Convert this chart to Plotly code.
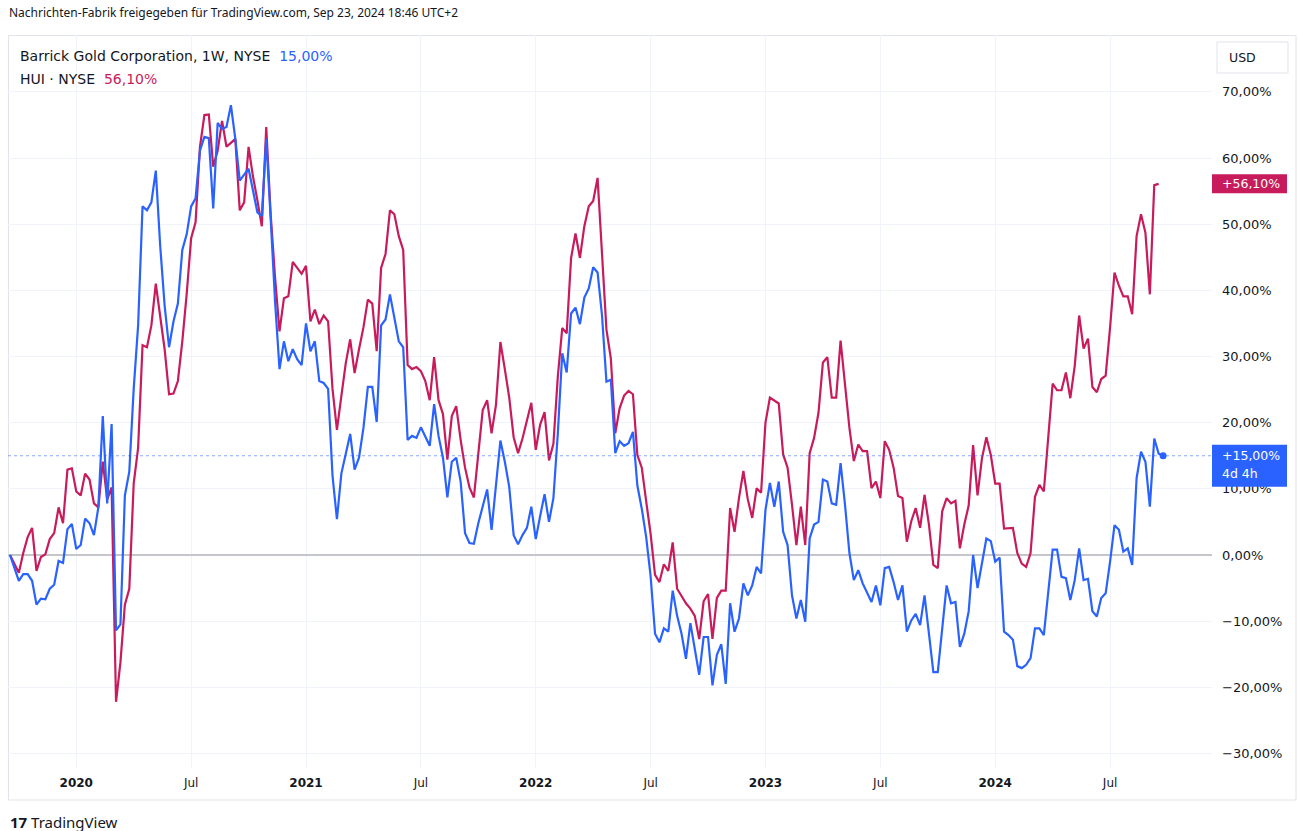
import pandas as pd
import plotly.graph_objects as go

# ---------------- data (weekly bars, % change since first bar) ----------------
START = pd.Timestamp("2019-09-23")   # first weekly bar

# bar indices (weeks since START) and values
barrick_weeks_a = [0] + list(range(2, 55))
barrick_pct_a = [0.0, -3.9, -2.9, -2.9, -3.9, -7.5, -6.6, -6.7, -5.1, -4.5,
                 -0.9, -1.2, 3.9, 4.7, 0.9, 1.5, 5.5, 4.8, 3.0, 7.2,
                 21.0, 7.8, 19.8, -11.4, -10.5, 9.0, 12.6, 25.1, 34.7, 52.7,
                 52.1, 53.3, 58.1, 46.7, 37.7, 31.4, 35.3, 38.0, 46.1, 48.5,
                 52.7, 53.9, 61.1, 63.2, 63.0, 52.4, 65.3, 64.4, 64.7, 68.0,
                 62.9, 56.6, 57.5, 58.4]
barrick_weeks_b = list(range(55, 109))
barrick_pct_b = [55.1, 51.8, 51.2, 62.9, 50.9, 38.3, 28.1, 32.3, 29.3, 31.1,
                 29.6, 28.7, 35.0, 30.8, 32.3, 26.3, 26.0, 25.1, 12.0, 5.4,
                 12.3, 15.3, 18.3, 12.9, 14.7, 19.2, 25.4, 25.4, 20.1, 34.7,
                 35.6, 39.4, 35.9, 32.3, 31.4, 17.4, 18.0, 17.7, 19.3, 18.0,
                 16.5, 22.8, 18.0, 14.7, 8.7, 14.1, 14.7, 11.1, 3.3, 1.8,
                 1.7, 4.8, 7.2, 9.9]
barrick_weeks_c = [109] + list(range(111, 163))
barrick_pct_c = [3.8,
                 17.3, 14.1, 10.3, 3.0, 1.6, 3.0, 4.1, 7.3, 2.4, 5.9,
                 9.2, 5.0, 8.6, 18.4, 30.5, 27.6, 36.5, 37.4, 34.9, 38.9,
                 40.3, 43.5, 42.7, 36.2, 26.2, 26.5, 15.4, 17.2, 16.5, 16.9,
                 18.6, 10.5, 7.0, 2.7, -3.2, -11.9, -13.2, -11.1, -11.6, -5.4,
                 -9.2, -11.9, -15.7, -10.3, -14.1, -18.1, -12.4, -12.4, -19.7, -15.1,
                 -13.5, -19.5]
barrick_weeks_d = list(range(163, 217))
barrick_pct_d = [-7.3, -11.6, -9.6, -4.3, -6.1, -4.6, -1.8, -2.8, 6.8, 10.9,
                 7.3, 11.1, 3.5, 1.5, -6.1, -9.6, -6.8, -10.1, 2.5, 4.6,
                 5.0, 11.4, 11.1, 7.8, 7.6, 13.9, 7.6, 0.3, -3.8, -2.3,
                 -4.3, -5.6, -7.1, -4.6, -7.6, -2.0, -1.8, -4.1, -6.8, -4.6,
                 -11.6, -9.9, -8.9, -10.6, -6.1, -11.9, -17.7, -17.7, -11.6, -4.6,
                 -7.3, -7.1, -13.9, -11.9]
barrick_weeks_e = list(range(217, 262))
barrick_pct_e = [-8.5, 0.0, -5.0, -1.0, 2.5, 2.1, -1.0, -0.4, -11.6, -12.1,
                 -12.8, -16.8, -17.1, -16.6, -15.6, -11.1, -11.1, -12.1, -5.5, 0.8,
                 0.8, -3.3, -3.5, -6.8, -3.8, 1.0, -3.8, -3.6, -8.5, -9.3,
                 -6.5, -5.8, -1.0, 4.5, 3.8, 0.5, 1.0, -1.5, 11.6, 15.6,
                 14.1, 7.3, 17.6, 15.3, 15.0]

hui_weeks_a = [0] + list(range(2, 55))
hui_pct_a = [0.0, -2.7, 0.3, 2.7, 4.1, -2.4, -0.3, 0.1, 2.4, 3.3,
             7.2, 4.8, 12.9, 13.1, 9.6, 9.0, 12.3, 11.4, 7.8, 7.2,
             14.1, 8.4, 10.2, -22.2, -16.2, -7.5, -5.1, 10.8, 16.2, 31.7,
             31.4, 34.7, 41.0, 35.9, 31.1, 24.3, 24.4, 26.3, 32.3, 39.5,
             47.9, 50.3, 61.7, 66.5, 66.6, 58.7, 61.1, 65.6, 61.7, 62.3,
             62.9, 52.1, 53.3, 61.7]
hui_weeks_b = list(range(55, 109))
hui_pct_b = [57.2, 53.6, 49.7, 64.7, 51.5, 41.9, 33.8, 38.8, 39.1, 44.3,
             43.4, 42.5, 43.7, 35.3, 37.1, 34.9, 36.2, 35.3, 25.1, 18.9,
             24.0, 29.0, 32.6, 27.5, 31.1, 34.4, 38.6, 38.0, 30.8, 43.4,
             45.5, 52.1, 51.5, 48.2, 46.1, 28.7, 28.1, 28.4, 27.8, 26.3,
             23.4, 29.9, 23.4, 21.3, 14.4, 21.0, 22.5, 17.4, 13.2, 10.2,
             8.7, 15.0, 21.9, 23.4]
hui_weeks_c = list(range(109, 163))
hui_pct_c = [18.4, 22.7, 32.2, 28.1, 23.8, 17.8, 15.4, 17.6, 20.5, 23.0,
             15.9, 19.7, 21.6, 14.3, 16.8, 27.0, 34.3, 33.5, 44.9, 48.6,
             44.9, 49.7, 52.7, 53.5, 57.0, 45.1, 34.1, 29.7, 18.4, 22.2,
             24.1, 24.8, 24.3, 15.1, 13.2, 8.1, 3.2, -3.0, -4.1, -1.4,
             -2.4, 1.9, -5.1, -6.2, -7.3, -8.1, -9.2, -12.7, -7.0, -5.9,
             -12.7, -6.5, -5.4, -5.4]
hui_weeks_d = list(range(163, 217))
hui_pct_d = [7.1, 3.5, 8.6, 12.7, 8.4, 5.6, 10.1, 9.4, 20.0, 23.8,
             23.3, 22.9, 15.2, 13.2, 7.6, 1.5, 7.3, 1.5, 15.4, 17.7,
             21.5, 29.1, 29.9, 23.8, 23.8, 32.4, 25.8, 19.2, 14.2, 16.7,
             15.7, 15.7, 10.1, 11.1, 8.6, 17.2, 15.9, 13.2, 8.9, 8.6,
             2.0, 5.1, 7.1, 4.1, 9.1, 4.6, -1.5, -2.0, 6.6, 8.6,
             7.8, 8.2, 1.0, 4.6]
hui_weeks_e = list(range(217, 261))
hui_pct_e = [7.5, 16.6, 9.0, 14.6, 17.8, 15.1, 10.8, 10.8, 4.0, 4.1,
             4.1, 0.3, -1.3, -1.8, 0.3, 8.8, 10.6, 9.6, 18.1, 25.9,
             24.9, 24.9, 27.6, 23.7, 28.6, 36.2, 31.2, 32.7, 25.4, 24.6,
             26.6, 27.1, 34.4, 42.7, 40.7, 39.1, 39.1, 36.4, 48.2, 51.5,
             48.7, 39.4, 55.9, 56.1]

tick_dates = ["2020-01-06", "2020-07-06", "2021-01-04", "2021-07-05", "2022-01-03",
              "2022-07-04", "2023-01-02", "2023-07-03", "2024-01-01", "2024-07-01"]
tick_labels = ["<b>2020</b>", "Jul", "<b>2021</b>", "Jul", "<b>2022</b>",
               "Jul", "<b>2023</b>", "Jul", "<b>2024</b>", "Jul"]
y_ticks = [-30, -20, -10, 0, 10, 20, 30, 40, 50, 60, 70]

# ---------------- assemble ----------------
barrick_weeks = barrick_weeks_a + barrick_weeks_b + barrick_weeks_c + barrick_weeks_d + barrick_weeks_e
barrick_pct = barrick_pct_a + barrick_pct_b + barrick_pct_c + barrick_pct_d + barrick_pct_e
hui_weeks = hui_weeks_a + hui_weeks_b + hui_weeks_c + hui_weeks_d + hui_weeks_e
hui_pct = hui_pct_a + hui_pct_b + hui_pct_c + hui_pct_d + hui_pct_e


def wk(w):
    return START + pd.Timedelta(days=7 * w)


barrick_dates = [wk(w) for w in barrick_weeks]
hui_dates = [wk(w) for w in hui_weeks]

BLUE = "#2962FF"
RED = "#C81B5C"
TXT = "#131722"
GRID = "#F0F3FA"
FONT = "DejaVu Sans"
HFONT = "Noto Sans"

W, H = 1298, 831
L, R, T, B = 8, 86, 35, 63
PW, PH = W - L - R, H - T - B


def px(x):
    return (x - L) / PW


def py(y):
    return (T + PH - y) / PH


def fmt(v, sign=False):
    s = f"{v:+.2f}%" if sign else f"{v:.2f}%"
    return s.replace(".", ",").replace("-", "\u2212")


fig = go.Figure()
fig.add_trace(go.Scatter(x=hui_dates, y=hui_pct, mode="lines",
                         line=dict(color=RED, width=2.2), hoverinfo="skip"))
fig.add_trace(go.Scatter(x=barrick_dates, y=barrick_pct, mode="lines",
                         line=dict(color=BLUE, width=2.2), hoverinfo="skip"))
fig.add_trace(go.Scatter(x=[barrick_dates[-1]], y=[barrick_pct[-1]], mode="markers",
                         marker=dict(color=BLUE, size=7), hoverinfo="skip"))

b_last = barrick_pct[-1]
h_last = hui_pct[-1]
ppu = PH / (78.6 - (-32.2))   # pixels per percent

shapes = [
    # outer frame
    dict(type="rect", xref="paper", yref="paper", x0=px(8.5), x1=px(1296), y0=py(800), y1=py(35.5),
         line=dict(color="#E0E3EB", width=1), layer="below"),
    # dotted last-price line
    dict(type="line", xref="paper", yref="y", x0=0, x1=1, y0=b_last, y1=b_last,
         line=dict(color=BLUE, width=1, dash="dot"), opacity=0.55),
    # HUI price label
    dict(type="rect", xref="paper", yref="y", x0=1.0, x1=px(1287),
         y0=h_last - 9.5 / ppu, y1=h_last + 9.5 / ppu,
         fillcolor=RED, line=dict(width=0), layer="above"),
    # Barrick price label
    dict(type="rect", xref="paper", yref="y", x0=1.0, x1=px(1287),
         y0=b_last - 31 / ppu, y1=b_last + 11 / ppu,
         fillcolor=BLUE, line=dict(width=0), layer="above"),
    # USD button
    dict(type="rect", xref="paper", yref="paper", x0=px(1217), x1=px(1288), y0=py(73), y1=py(42),
         line=dict(color="#E0E3EB", width=1), fillcolor="white"),
]

annotations = [
    dict(text="Nachrichten-Fabrik freigegeben für TradingView.com, Sep 23, 2024 18:46 UTC+2",
         xref="paper", yref="paper", x=px(7), y=py(12), xanchor="left", yanchor="middle",
         showarrow=False, font=dict(family=HFONT, size=12, color=TXT)),
    dict(text=f"Barrick Gold Corporation, 1W, NYSE  <span style='color:{BLUE}'>{fmt(b_last)}</span>",
         xref="paper", yref="paper", x=px(18), y=py(56), xanchor="left", yanchor="middle",
         showarrow=False, font=dict(family=FONT, size=14, color=TXT)),
    dict(text=f"HUI · NYSE  <span style='color:{RED}'>{fmt(h_last)}</span>",
         xref="paper", yref="paper", x=px(18), y=py(79), xanchor="left", yanchor="middle",
         showarrow=False, font=dict(family=FONT, size=14, color=TXT)),
    dict(text=fmt(h_last, sign=True), xref="paper", yref="y", x=px(1220), y=h_last,
         xanchor="left", yanchor="middle", showarrow=False,
         font=dict(family=FONT, size=12.5, color="white")),
    dict(text=fmt(b_last, sign=True), xref="paper", yref="y", x=px(1220), y=b_last,
         xanchor="left", yanchor="middle", showarrow=False,
         font=dict(family=FONT, size=12.5, color="white")),
    dict(text="4d 4h", xref="paper", yref="y", x=px(1220), y=b_last - 18 / ppu,
         xanchor="left", yanchor="middle", showarrow=False,
         font=dict(family=FONT, size=12.5, color="white")),
    dict(text="USD", xref="paper", yref="paper", x=px(1242), y=py(57),
         xanchor="center", yanchor="middle", showarrow=False,
         font=dict(family=FONT, size=12.5, color=TXT)),
    dict(text="<b>17</b> TradingView", xref="paper", yref="paper", x=px(8), y=py(822),
         xanchor="left", yanchor="middle", showarrow=False,
         font=dict(family=HFONT, size=15, color=TXT)),
]

x0 = wk((L - 10) / 4.418)
x1 = wk((L + PW - 10) / 4.418)

fig.update_layout(
    width=W, height=H,
    margin=dict(l=L, r=R, t=T, b=B),
    paper_bgcolor="white", plot_bgcolor="white",
    showlegend=False,
    font=dict(family=FONT, color=TXT),
    shapes=shapes, annotations=annotations,
    xaxis=dict(type="date", range=[x0, x1], tickvals=tick_dates, ticktext=tick_labels,
               showgrid=True, gridcolor=GRID, gridwidth=1, zeroline=False, showline=False,
               ticks="", tickfont=dict(family=FONT, size=12, color=TXT),
               ticklabelstandoff=6, fixedrange=True),
    yaxis=dict(side="right", range=[-32.2, 78.6], tickvals=y_ticks,
               ticktext=[fmt(v) for v in y_ticks],
               showgrid=True, gridcolor=GRID, gridwidth=1,
               zeroline=True, zerolinecolor="#C4C6CC", zerolinewidth=1.5,
               showline=False, ticks="", tickfont=dict(family=FONT, size=13, color=TXT),
               ticklabelstandoff=9, fixedrange=True),
)

fig.write_html("out.html", config={"displayModeBar": False},
               post_script="document.body.style.margin='0';document.body.style.overflow='hidden';")
